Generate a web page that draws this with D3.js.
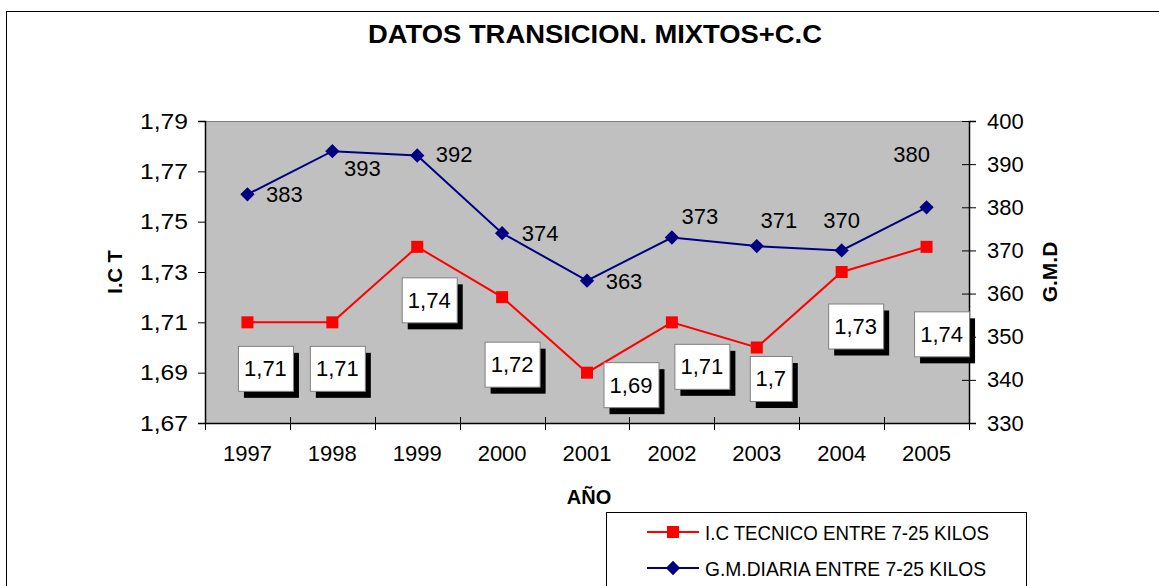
<!DOCTYPE html>
<html>
<head>
<meta charset="utf-8">
<script src="https://cdn.jsdelivr.net/npm/d3@7"></script>
<style>
  body { margin: 0; background: #fff; }
  text { font-family: Arial, "Liberation Sans", sans-serif; fill: #000; }
</style>
</head>
<body>
<div id="chart"></div>
<script>
// data
var years = ["1997", "1998", "1999", "2000", "2001", "2002", "2003", "2004", "2005"];
var ictValues = [1.71, 1.71, 1.74, 1.72, 1.69, 1.71, 1.70, 1.73, 1.74];
var gmdValues = [383, 393, 392, 374, 363, 373, 371, 370, 380];
var ictTicks = [1.67, 1.69, 1.71, 1.73, 1.75, 1.77, 1.79];
var gmdTicks = [330, 340, 350, 360, 370, 380, 390, 400];
var seriesNames = ["I.C TECNICO ENTRE 7-25 KILOS", "G.M.DIARIA ENTRE 7-25 KILOS"];

// label placement (pixels from the point), the way they were dragged in the original
var ictLabelOffsets = [[18, 46], [5, 46], [12, 53], [10, 67], [44, 12], [30, 44], [14, 31], [14, 54], [15, 87]];
var gmdLabelOffsets = [[37, 0], [30, 17], [37, -1], [38, 0], [37, 0], [28, -21], [22, -26], [0, -30], [-15, -53]];

var W = 1159, H = 586;
var margin = { top: 121, right: 190, bottom: 163, left: 205 };

var svg = d3.select("#chart").append("svg")
    .attr("width", W)
    .attr("height", H);

// outer chart frame (runs off the right and bottom of the picture)
svg.append("rect")
    .attr("x", 6.5).attr("y", 11.5)
    .attr("width", W + 20).attr("height", H + 20)
    .attr("fill", "#fff").attr("stroke", "#000").attr("stroke-width", 1);

var x = d3.scaleBand()
    .domain(years)
    .range([margin.left, W - margin.right]);

var yL = d3.scaleLinear()
    .domain([1.67, 1.79])
    .range([H - margin.bottom, margin.top]);

var yR = d3.scaleLinear()
    .domain([330, 400])
    .range([H - margin.bottom, margin.top]);

var x0 = x.range()[0], x1 = x.range()[1];
var yTop = margin.top, yBot = H - margin.bottom;

function comma(v) { return String(v).replace(".", ","); }

// plot area
svg.append("rect")
    .attr("x", x0).attr("y", yTop)
    .attr("width", x1 - x0).attr("height", yBot - yTop)
    .attr("fill", "#c0c0c0");
svg.append("line")
    .attr("x1", x0).attr("x2", x1).attr("y1", yTop + 0.5).attr("y2", yTop + 0.5)
    .attr("stroke", "#808080");

// left axis
var gL = svg.append("g")
    .attr("transform", "translate(" + x0 + ",0)")
    .call(d3.axisLeft(yL).tickValues(ictTicks).tickSize(7).tickPadding(10)
      .tickFormat(function(d) { return d3.format(".2f")(d).replace(".", ","); }));

// right axis
var gR = svg.append("g")
    .attr("transform", "translate(" + x1 + ",0)")
    .call(d3.axisRight(yR).tickValues(gmdTicks).tickSize(7).tickPadding(11));
gR.selectAll(".tick line").attr("x1", -7);

// bottom axis: labels in the middle of each band, ticks on the band edges
var gB = svg.append("g")
    .attr("transform", "translate(0," + yBot + ")")
    .call(d3.axisBottom(x).tickSize(0).tickPadding(22));
gB.selectAll(".tick line").remove();
var edges = years.map(function(d) { return x(d); }).concat([x1]);
gB.selectAll(".edge")
    .data(edges)
  .enter().append("line")
    .attr("class", "edge")
    .attr("x1", function(d) { return Math.round(d) + 0.5; })
    .attr("x2", function(d) { return Math.round(d) + 0.5; })
    .attr("y1", -6).attr("y2", 7)
    .attr("stroke", "#000");

[gL, gR, gB].forEach(function(g) {
  g.select(".domain").attr("stroke", "#000").attr("stroke-width", 1.5);
  g.selectAll(".tick line").attr("stroke", "#000");
  g.selectAll("text")
    .style("font-family", "Arial, 'Liberation Sans', sans-serif")
    .attr("font-size", 22)
    .attr("fill", "#000");
});
gL.selectAll(".tick text")
    .attr("textLength", 48)
    .attr("lengthAdjust", "spacingAndGlyphs");

// titles
svg.append("text")
    .attr("x", 595).attr("y", 43)
    .attr("text-anchor", "middle")
    .attr("font-size", 26).attr("font-weight", "bold")
    .attr("textLength", 454)
    .attr("lengthAdjust", "spacingAndGlyphs")
    .text("DATOS TRANSICION. MIXTOS+C.C");

svg.append("text")
    .attr("x", 589).attr("y", 504)
    .attr("text-anchor", "middle")
    .attr("font-size", 20).attr("font-weight", "bold")
    .text("AÑO");

svg.append("text")
    .attr("transform", "translate(122,272) rotate(-90)")
    .attr("text-anchor", "middle")
    .attr("font-size", 20).attr("font-weight", "bold")
    .text("I.C T");

svg.append("text")
    .attr("transform", "translate(1057,272) rotate(-90)")
    .attr("text-anchor", "middle")
    .attr("font-size", 21).attr("font-weight", "bold")
    .text("G.M.D");

var cx = function(i) { return x(years[i]) + x.bandwidth() / 2; };

// blue series: G.M. diaria
var gmdLine = d3.line()
    .x(function(d, i) { return cx(i); })
    .y(function(d) { return yR(d); });

svg.append("path")
    .datum(gmdValues)
    .attr("d", gmdLine)
    .attr("fill", "none")
    .attr("stroke", "#000080")
    .attr("stroke-width", 2);

svg.selectAll(".gmd-dot")
    .data(gmdValues)
  .enter().append("path")
    .attr("class", "gmd-dot")
    .attr("d", d3.symbol(d3.symbolDiamond2, 130))
    .attr("transform", function(d, i) { return "translate(" + cx(i) + "," + yR(d) + ")"; })
    .attr("fill", "#000080");

// red series: I.C tecnico
var ictLine = d3.line()
    .x(function(d, i) { return cx(i); })
    .y(function(d) { return yL(d); });

svg.append("path")
    .datum(ictValues)
    .attr("d", ictLine)
    .attr("fill", "none")
    .attr("stroke", "#ff0000")
    .attr("stroke-width", 2);

svg.selectAll(".ict-dot")
    .data(ictValues)
  .enter().append("rect")
    .attr("class", "ict-dot")
    .attr("x", function(d, i) { return cx(i) - 6; })
    .attr("y", function(d) { return yL(d) - 6; })
    .attr("width", 12).attr("height", 12)
    .attr("fill", "#ff0000");

// blue data labels, plain text
svg.selectAll(".gmd-label")
    .data(gmdValues)
  .enter().append("text")
    .attr("class", "gmd-label")
    .attr("x", function(d, i) { return cx(i) + gmdLabelOffsets[i][0]; })
    .attr("y", function(d, i) { return yR(d) + gmdLabelOffsets[i][1]; })
    .attr("dy", "0.36em")
    .attr("text-anchor", "middle")
    .attr("font-size", 22)
    .text(function(d) { return d; });

// red data labels, boxed with a drop shadow
var box = svg.selectAll(".ict-label")
    .data(ictValues)
  .enter().append("g")
    .attr("class", "ict-label")
    .attr("transform", function(d, i) {
      return "translate(" + (cx(i) + ictLabelOffsets[i][0]) + "," + (yL(d) + ictLabelOffsets[i][1]) + ")";
    });

box.each(function(d) {
  var g = d3.select(this);
  var bw = comma(d).length > 3 ? 55 : 42, bh = 45;
  g.append("rect")
      .attr("x", -bw / 2 + 6).attr("y", -bh / 2 + 7)
      .attr("width", bw).attr("height", bh)
      .attr("fill", "#000");
  g.append("rect")
      .attr("x", -bw / 2 + 0.5).attr("y", -bh / 2 + 0.5)
      .attr("width", bw).attr("height", bh)
      .attr("fill", "#fff").attr("stroke", "#808080");
  g.append("text")
      .attr("text-anchor", "middle")
      .attr("dy", "0.36em")
      .attr("font-size", 22)
      .text(comma(d));
});

// legend
var lg = svg.append("g").attr("transform", "translate(606,512)");
lg.append("rect")
    .attr("x", 0.5).attr("y", 0.5)
    .attr("width", 420).attr("height", 100)
    .attr("fill", "#fff").attr("stroke", "#000");

var rows = lg.selectAll(".row")
    .data(seriesNames)
  .enter().append("g")
    .attr("class", "row")
    .attr("transform", function(d, i) { return "translate(0," + (20 + i * 36) + ")"; });

rows.append("line")
    .attr("x1", 41).attr("x2", 93)
    .attr("stroke", function(d, i) { return i ? "#000080" : "#ff0000"; })
    .attr("stroke-width", 2);

rows.each(function(d, i) {
  var r = d3.select(this);
  if (i === 0) {
    r.append("rect").attr("x", 61).attr("y", -6).attr("width", 12).attr("height", 12).attr("fill", "#ff0000");
  } else {
    r.append("path").attr("d", d3.symbol(d3.symbolDiamond2, 130))
      .attr("transform", "translate(67,0)").attr("fill", "#000080");
  }
});

rows.append("text")
    .attr("x", 99)
    .attr("dy", "0.36em")
    .attr("font-size", 21)
    .attr("textLength", function(d, i) { return i ? 281 : 284; })
    .attr("lengthAdjust", "spacingAndGlyphs")
    .text(function(d) { return d; });
</script>
</body>
</html>
